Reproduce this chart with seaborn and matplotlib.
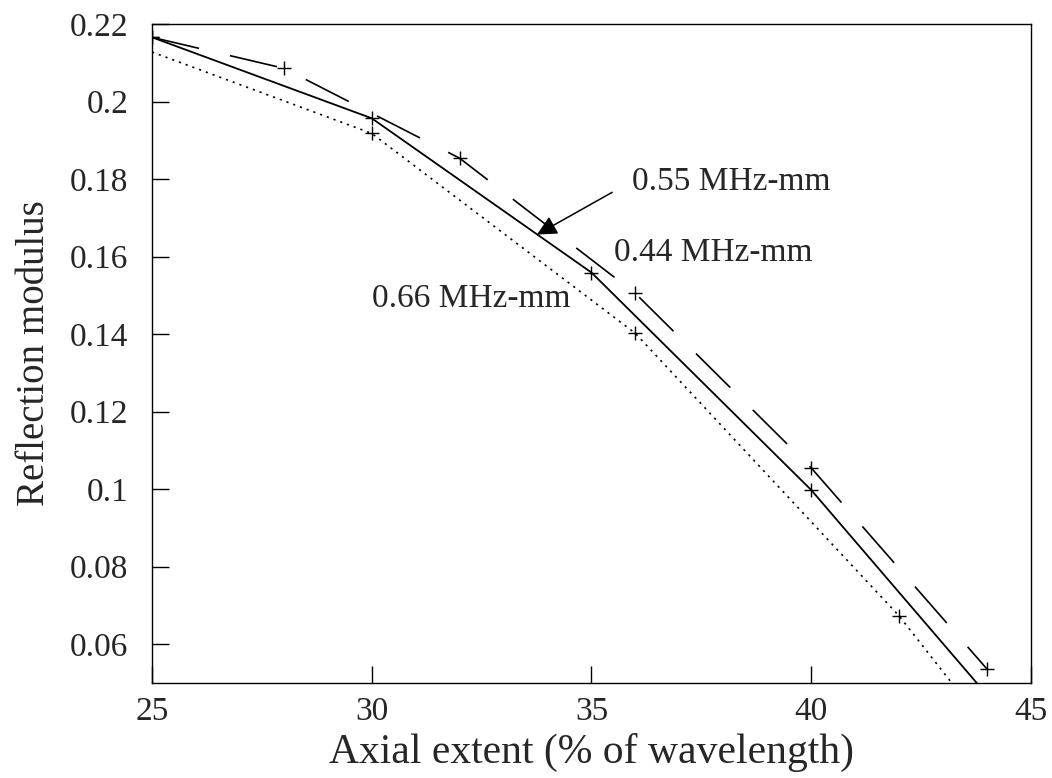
import matplotlib
matplotlib.use("Agg")
import matplotlib.pyplot as plt
import seaborn as sns
import pandas as pd

# Data
x_055 = [25, 30, 35, 40, 45]
y_055 = [0.2166, 0.1957, 0.1559, 0.0998, 0.0337]

x_044 = [25, 28, 32, 36, 40, 44]
y_044 = [0.2166, 0.2086, 0.1854, 0.1505, 0.1055, 0.0536]

x_066 = [25, 30, 36, 42, 45]
y_066 = [0.2128, 0.1918, 0.1402, 0.0673, 0.0240]

x_ticks = [25, 30, 35, 40, 45]
y_ticks = [0.06, 0.08, 0.1, 0.12, 0.14, 0.16, 0.18, 0.2, 0.22]
y_tick_labels = ["0.06", "0.08", "0.1", "0.12", "0.14", "0.16", "0.18", "0.2", "0.22"]

sns.set_style("white")
plt.rcParams['font.family'] = ['Liberation Serif', 'DejaVu Serif']

fig = plt.figure(figsize=(10.52, 7.78), dpi=100)
ax = fig.add_axes([0.1445, 0.1221, 0.8355, 0.8469])

df055 = pd.DataFrame({"x": x_055, "y": y_055})
df044 = pd.DataFrame({"x": x_044, "y": y_044})
df066 = pd.DataFrame({"x": x_066, "y": y_066})

mk = dict(marker="+", markersize=10.5, markeredgewidth=1.0,
          markeredgecolor="black", markerfacecolor="black")

sns.lineplot(data=df055, x="x", y="y", ax=ax, color="black", lw=1.3,
             sort=False, **mk)
sns.lineplot(data=df044, x="x", y="y", ax=ax, color="black", lw=1.2,
             sort=False, **mk)
ax.lines[-1].set_dashes([29, 19])
sns.lineplot(data=df066, x="x", y="y", ax=ax, color="black", lw=1.2,
             sort=False, markevery=[1, 2, 3], **mk)
ax.lines[-1].set_dashes([1.3, 3.0])

ax.set_xlim(25, 45)
ax.set_ylim(0.05, 0.22)
ax.set_xticks(x_ticks)
ax.set_yticks(y_ticks)
ax.set_yticklabels(y_tick_labels)
ax.tick_params(axis="both", which="both", direction="in", length=12, width=1,
               labelsize=24, color="black", left=True, bottom=True,
               top=False, right=False)
ax.tick_params(axis="x", pad=10)
ax.tick_params(axis="y", pad=17)
for s in ax.spines.values():
    s.set_color("black")
    s.set_linewidth(1.0)

ax.set_xlabel("Axial extent (% of wavelength)", fontsize=30, labelpad=4)
ax.set_ylabel("Reflection modulus", fontsize=28, labelpad=12)

ax.annotate("", xy=(33.76, 0.1657), xytext=(35.47, 0.1766),
            arrowprops=dict(arrowstyle="-|>", color="black", lw=1.1,
                            mutation_scale=30, shrinkA=0, shrinkB=0))
ax.text(35.92, 0.1794, "0.55 MHz-mm", fontsize=24, va="center", ha="left")
ax.text(35.51, 0.1611, "0.44 MHz-mm", fontsize=24, va="center", ha="left")
ax.text(30.0, 0.1492, "0.66 MHz-mm", fontsize=24, va="center", ha="left")

fig.savefig("out.png", dpi=100)
